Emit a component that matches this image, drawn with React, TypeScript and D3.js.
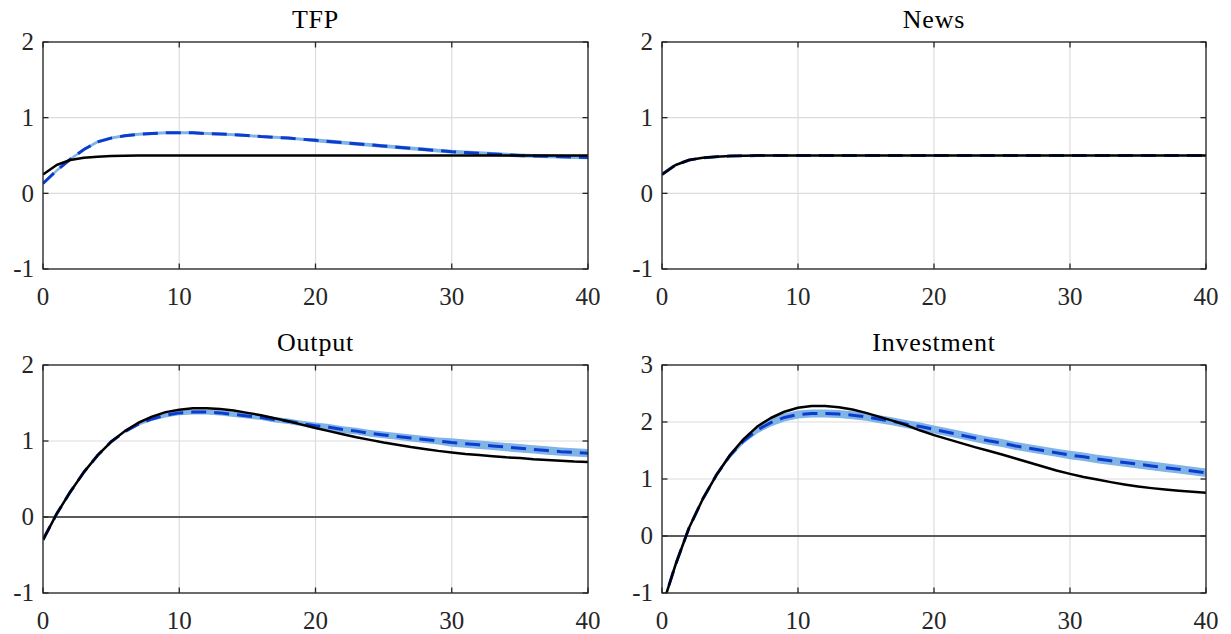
import React from "react";
import * as d3 from "d3";

// ---------------- data ----------------
const periods = [0,1,2,3,4,5,6,7,8,9,10,11,12,13,14,15,16,17,18,19,20,21,22,23,24,25,26,27,28,29,30,31,32,33,34,35,36,37,38,39,40];
const xTicks = [0, 10, 20, 30, 40];
const titles = ["TFP", "News", "Output", "Investment"];

// TFP
const tfpModel = [0.25,0.375,0.44,0.47,0.485,0.493,0.497,0.499,0.5,0.5,0.5,0.5,0.5,0.5,0.5,0.5,0.5,0.5,0.5,0.5,0.5,0.5,0.5,0.5,0.5,0.5,0.5,0.5,0.5,0.5,0.5,0.5,0.5,0.5,0.5,0.5,0.5,0.5,0.5,0.5,0.5];
const tfpMid = [0.13,0.30,0.45,0.58,0.68,0.73,0.76,0.78,0.79,0.80,0.80,0.80,0.79,0.785,0.775,0.765,0.75,0.74,0.73,0.715,0.70,0.685,0.67,0.655,0.64,0.625,0.61,0.595,0.58,0.565,0.55,0.54,0.53,0.52,0.51,0.50,0.495,0.49,0.485,0.48,0.475];
const tfpLo = [0.11,0.28,0.43,0.56,0.66,0.71,0.74,0.76,0.77,0.78,0.78,0.78,0.77,0.765,0.755,0.745,0.73,0.72,0.71,0.695,0.675,0.66,0.645,0.63,0.615,0.60,0.585,0.57,0.555,0.54,0.525,0.515,0.505,0.495,0.485,0.475,0.47,0.465,0.46,0.455,0.45];
const tfpHi = [0.15,0.32,0.47,0.60,0.70,0.75,0.78,0.80,0.81,0.82,0.82,0.82,0.81,0.805,0.795,0.785,0.77,0.76,0.75,0.735,0.725,0.71,0.695,0.68,0.665,0.65,0.635,0.62,0.605,0.59,0.575,0.565,0.555,0.545,0.535,0.525,0.52,0.515,0.51,0.505,0.50];

// News
const newsModel = [0.25,0.375,0.44,0.47,0.485,0.493,0.497,0.499,0.5,0.5,0.5,0.5,0.5,0.5,0.5,0.5,0.5,0.5,0.5,0.5,0.5,0.5,0.5,0.5,0.5,0.5,0.5,0.5,0.5,0.5,0.5,0.5,0.5,0.5,0.5,0.5,0.5,0.5,0.5,0.5,0.5];
const newsMid = [0.25,0.375,0.44,0.47,0.485,0.493,0.497,0.499,0.5,0.5,0.5,0.5,0.5,0.5,0.5,0.5,0.5,0.5,0.5,0.5,0.5,0.5,0.5,0.5,0.5,0.5,0.5,0.5,0.5,0.5,0.5,0.5,0.5,0.5,0.5,0.5,0.5,0.5,0.5,0.5,0.5];
const newsLo = [0.245,0.37,0.435,0.465,0.48,0.488,0.492,0.494,0.495,0.495,0.495,0.495,0.495,0.495,0.495,0.495,0.495,0.495,0.495,0.495,0.495,0.495,0.495,0.495,0.495,0.495,0.495,0.495,0.495,0.495,0.495,0.495,0.495,0.495,0.495,0.495,0.495,0.495,0.495,0.495,0.495];
const newsHi = [0.255,0.38,0.445,0.475,0.49,0.498,0.502,0.504,0.505,0.505,0.505,0.505,0.505,0.505,0.505,0.505,0.505,0.505,0.505,0.505,0.505,0.505,0.505,0.505,0.505,0.505,0.505,0.505,0.505,0.505,0.505,0.505,0.505,0.505,0.505,0.505,0.505,0.505,0.505,0.505,0.505];

// Output
const outModel = [-0.30,0.04,0.33,0.59,0.81,0.99,1.13,1.24,1.32,1.38,1.41,1.43,1.43,1.42,1.40,1.37,1.34,1.30,1.26,1.215,1.17,1.13,1.09,1.05,1.015,0.98,0.95,0.92,0.895,0.87,0.85,0.83,0.815,0.80,0.785,0.775,0.76,0.75,0.74,0.73,0.725];
const outMid = [-0.30,0.04,0.33,0.59,0.81,0.99,1.12,1.22,1.29,1.34,1.37,1.38,1.38,1.37,1.35,1.33,1.31,1.28,1.26,1.23,1.20,1.18,1.15,1.13,1.10,1.08,1.06,1.04,1.02,1.00,0.98,0.965,0.95,0.935,0.92,0.905,0.89,0.875,0.86,0.85,0.84];
const outLo = [-0.31,0.03,0.32,0.58,0.80,0.98,1.105,1.20,1.265,1.31,1.34,1.35,1.35,1.335,1.315,1.295,1.275,1.245,1.225,1.195,1.155,1.135,1.105,1.085,1.055,1.035,1.015,0.995,0.975,0.955,0.925,0.91,0.895,0.88,0.865,0.85,0.835,0.82,0.805,0.795,0.785];
const outHi = [-0.29,0.05,0.34,0.60,0.82,1.00,1.135,1.24,1.315,1.37,1.40,1.41,1.41,1.405,1.385,1.365,1.345,1.315,1.295,1.265,1.245,1.225,1.195,1.175,1.145,1.125,1.105,1.085,1.065,1.045,1.035,1.02,1.005,0.99,0.975,0.96,0.945,0.93,0.915,0.905,0.895];

// Investment
const invModel = [-1.25,-0.50,0.15,0.65,1.07,1.42,1.70,1.92,2.07,2.18,2.25,2.28,2.28,2.26,2.22,2.16,2.09,2.02,1.94,1.85,1.77,1.70,1.63,1.56,1.495,1.43,1.36,1.29,1.22,1.15,1.09,1.035,0.99,0.945,0.905,0.87,0.84,0.815,0.795,0.775,0.76];
const invMid = [-1.25,-0.50,0.15,0.65,1.07,1.41,1.67,1.86,1.99,2.08,2.13,2.15,2.15,2.14,2.12,2.09,2.05,2.01,1.96,1.92,1.87,1.82,1.77,1.72,1.67,1.63,1.58,1.54,1.50,1.46,1.42,1.39,1.35,1.32,1.29,1.26,1.23,1.20,1.17,1.14,1.11];
const invLo = [-1.27,-0.52,0.13,0.63,1.04,1.37,1.62,1.80,1.92,2.01,2.06,2.08,2.08,2.07,2.05,2.02,1.98,1.94,1.89,1.85,1.80,1.75,1.70,1.65,1.60,1.56,1.51,1.47,1.43,1.39,1.345,1.315,1.275,1.245,1.215,1.185,1.155,1.125,1.095,1.065,1.035];
const invHi = [-1.23,-0.48,0.17,0.67,1.10,1.45,1.72,1.92,2.06,2.15,2.20,2.22,2.22,2.21,2.19,2.16,2.12,2.08,2.03,1.99,1.94,1.89,1.84,1.79,1.74,1.70,1.65,1.61,1.57,1.53,1.495,1.465,1.425,1.395,1.365,1.335,1.305,1.275,1.245,1.215,1.185];

const yDomains = [[-1, 2], [-1, 2], [-1, 2], [-1, 3]];
const yTicksList = [[-1, 0, 1, 2], [-1, 0, 1, 2], [-1, 0, 1, 2], [-1, 0, 1, 2, 3]];
const zeroLine = [false, false, true, true];

const modelSeries = [tfpModel, newsModel, outModel, invModel];
const midSeries = [tfpMid, newsMid, outMid, invMid];
const loSeries = [tfpLo, newsLo, outLo, invLo];
const hiSeries = [tfpHi, newsHi, outHi, invHi];

// ---------------- layout ----------------
const W = 1231, H = 634;
const boxes = [
  { left: 43, right: 588, top: 42, bottom: 269 },
  { left: 662, right: 1206, top: 42, bottom: 269 },
  { left: 43, right: 588, top: 365, bottom: 593 },
  { left: 662, right: 1206, top: 365, bottom: 593 },
];

const AX = "#262626";
const GRID = "#dcdcdc";
const BAND = "#80b3e6";
const BLUE = "#0a3ccf";
const FONT = "'Liberation Serif', 'Times New Roman', serif";

function Panel({ i }: { i: number }) {
  const b = boxes[i];
  const x = d3.scaleLinear().domain([0, 40]).range([b.left, b.right]);
  const y = d3.scaleLinear().domain(yDomains[i]).range([b.bottom, b.top]);
  const model = modelSeries[i], mid = midSeries[i], lo = loSeries[i], hi = hiSeries[i];
  const line = d3.line<number>().x((_, k) => x(periods[k])).y((v) => y(v));
  const area = d3
    .area<number>()
    .x((_, k) => x(periods[k]))
    .y0((_, k) => y(lo[k]))
    .y1((_, k) => y(hi[k]));
  const clipId = `clip${i}`;
  const tickLen = 5.5;
  return (
    <g>
      <defs>
        <clipPath id={clipId}>
          <rect x={b.left} y={b.top} width={b.right - b.left} height={b.bottom - b.top} />
        </clipPath>
      </defs>
      <rect x={b.left} y={b.top} width={b.right - b.left} height={b.bottom - b.top} fill="#fff" />
      {/* grid */}
      {xTicks.map((t) => (
        <line key={"gx" + t} x1={x(t)} x2={x(t)} y1={b.top} y2={b.bottom} stroke={GRID} strokeWidth={1.2} />
      ))}
      {yTicksList[i].map((t) => (
        <line key={"gy" + t} x1={b.left} x2={b.right} y1={y(t)} y2={y(t)} stroke={GRID} strokeWidth={1.2} />
      ))}
      {zeroLine[i] && (
        <line x1={b.left} x2={b.right} y1={y(0)} y2={y(0)} stroke="#5a5a5a" strokeWidth={2.2} />
      )}
      <g clipPath={`url(#${clipId})`}>
        <path d={area(mid) || ""} fill={BAND} stroke="none" />
        <path d={line(mid) || ""} fill="none" stroke={BLUE} strokeWidth={3} strokeDasharray="15 8" />
        <path d={line(model) || ""} fill="none" stroke="#000" strokeWidth={2.5} strokeLinejoin="round" />
      </g>
      {/* box */}
      <rect x={b.left} y={b.top} width={b.right - b.left} height={b.bottom - b.top} fill="none" stroke={AX} strokeWidth={1.3} />
      {/* ticks inward */}
      {xTicks.map((t) => (
        <g key={"tx" + t}>
          <line x1={x(t)} x2={x(t)} y1={b.bottom} y2={b.bottom - tickLen} stroke={AX} strokeWidth={1.3} />
          <line x1={x(t)} x2={x(t)} y1={b.top} y2={b.top + tickLen} stroke={AX} strokeWidth={1.3} />
          <text x={x(t)} y={b.bottom + 27} dy="0.35em" textAnchor="middle" fontSize={25} fontFamily={FONT} fill={AX}>
            {t}
          </text>
        </g>
      ))}
      {yTicksList[i].map((t) => (
        <g key={"ty" + t}>
          <line x1={b.left} x2={b.left + tickLen} y1={y(t)} y2={y(t)} stroke={AX} strokeWidth={1.3} />
          <line x1={b.right} x2={b.right - tickLen} y1={y(t)} y2={y(t)} stroke={AX} strokeWidth={1.3} />
          <text x={b.left - 9} y={y(t)} dy="0.33em" textAnchor="end" fontSize={25} fontFamily={FONT} fill={AX}>
            {t}
          </text>
        </g>
      ))}
      <text x={(b.left + b.right) / 2} y={b.top - 14} textAnchor="middle" fontSize={26} letterSpacing={0.8} fontFamily={FONT} fill="#000">
        {titles[i]}
      </text>
    </g>
  );
}

export default function App() {
  return (
    <svg
      width={W}
      height={H}
      viewBox={`0 0 ${W} ${H}`}
      style={{ position: "absolute", left: 0, top: 0, background: "#fff" }}
    >
      <rect x={0} y={0} width={W} height={H} fill="#fff" />
      {[0, 1, 2, 3].map((i) => (
        <Panel key={i} i={i} />
      ))}
    </svg>
  );
}
